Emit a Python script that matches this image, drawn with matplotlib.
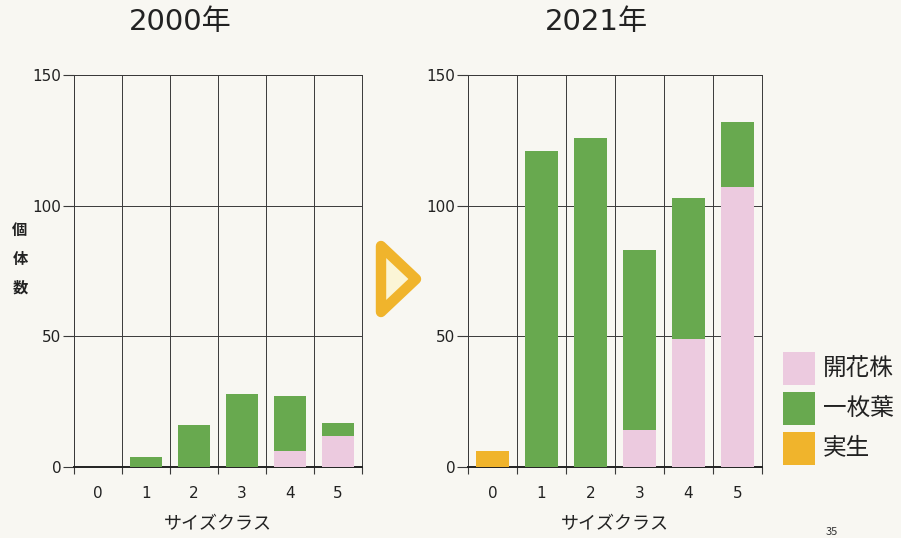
import matplotlib
matplotlib.use("Agg")
import matplotlib.pyplot as plt
import numpy as np
from matplotlib.patches import Polygon, Rectangle

plt.rcParams['font.family'] = ['Noto Sans CJK JP', 'DejaVu Sans']

# data
size_class = [0, 1, 2, 3, 4, 5]
series_names = ["開花株", "一枚葉", "実生"]
seedling_2000 = [0, 0, 0, 0, 0, 0]
oneleaf_2000 = [0, 4, 16, 28, 21, 5]
flower_2000 = [0, 0, 0, 0, 6, 12]
seedling_2021 = [6, 0, 0, 0, 0, 0]
oneleaf_2021 = [0, 121, 126, 69, 54, 25]
flower_2021 = [0, 0, 0, 14, 49, 107]
titles = ["2000年", "2021年"]
y_ticks = [0, 50, 100, 150]

PINK, GREEN, ORANGE = "#eccadf", "#68a94f", "#f0b42c"
BG = "#f8f7f2"
GRID = "#3a3a3a"
NUM_FONT = ["DejaVu Sans", "Noto Sans CJK JP"]

W, H = 901, 538
fig = plt.figure(figsize=(W / 100, H / 100), dpi=100)
fig.patch.set_facecolor(BG)


def px(x0, y0, x1, y1):
    return [x0 / W, 1 - y1 / H, (x1 - x0) / W, (y1 - y0) / H]


def panel(rect, seed, leaf, flower):
    ax = fig.add_axes(rect)
    ax.set_facecolor("none")
    x = np.array(size_class)
    seed = np.array(seed); leaf = np.array(leaf); flower = np.array(flower)
    ax.bar(x, flower, width=0.66, color=PINK, zorder=3)
    ax.bar(x, leaf, width=0.66, bottom=flower, color=GREEN, zorder=3)
    ax.bar(x, seed, width=0.66, bottom=flower + leaf, color=ORANGE, zorder=3)
    ax.set_xlim(-0.5, 5.5)
    ax.set_ylim(0, 150)
    ax.set_xticks(np.arange(-0.5, 6, 1))
    ax.set_xticklabels([])
    ax.set_xticks(x, minor=True)
    ax.set_xticklabels([str(v) for v in size_class], minor=True)
    ax.tick_params(axis="x", which="major", length=5, direction="out", color=GRID, width=0.8)
    ax.tick_params(axis="x", which="minor", length=0, pad=14, labelsize=11, labelcolor="#222",
                   labelfontfamily="DejaVu Sans")
    ax.set_yticks(y_ticks)
    ax.tick_params(axis="y", length=8, direction="out", color=GRID, width=0.8,
                   labelsize=11, labelcolor="#222", pad=1, labelfontfamily="DejaVu Sans")
    ax.grid(True, which="major", color=GRID, lw=0.7, zorder=0)
    for s in ["left", "right", "top"]:
        ax.spines[s].set_color(GRID)
        ax.spines[s].set_linewidth(0.7)
    ax.spines["bottom"].set_color("#222")
    ax.spines["bottom"].set_linewidth(1.4)
    ax.set_xlabel("サイズクラス", fontsize=13, color="#222", labelpad=10)
    return ax


axL = panel(px(74, 75, 362, 467), seedling_2000, oneleaf_2000, flower_2000)
axR = panel(px(468, 75, 762, 467), seedling_2021, oneleaf_2021, flower_2021)

for xc, t in zip([180, 596], titles):
    fig.text(xc / W, 1 - 22 / H, t, fontsize=21, ha="center", va="center",
             color="#222", family=NUM_FONT)

# vertical y label
for i, ch in enumerate("個体数"):
    fig.text(20 / W, 1 - (230 + i * 29) / H, ch, fontsize=11, ha="center", va="center",
             color="#222", fontweight="bold")

# arrow
tri = Polygon([(381 / W, 1 - 246 / H), (381 / W, 1 - 312 / H), (416 / W, 1 - 279 / H)],
              closed=True, transform=fig.transFigure, facecolor="#fbf5d6",
              edgecolor=ORANGE, lw=7.5, joinstyle="round")
fig.add_artist(tri)

# legend
for i, (name, col) in enumerate(zip(series_names, [PINK, GREEN, ORANGE])):
    yc = 368 + i * 40
    fig.add_artist(Rectangle((783 / W, 1 - (yc + 17) / H), 32 / W, 33 / H,
                             transform=fig.transFigure, facecolor=col, edgecolor="none"))
    fig.text(823 / W, 1 - yc / H, name, fontsize=17, va="center", ha="left", color="#222")

fig.text(832 / W, 1 - 532 / H, "35", fontsize=8, ha="center", va="center", color="#333")

fig.savefig("out.png", dpi=100, facecolor=BG)
